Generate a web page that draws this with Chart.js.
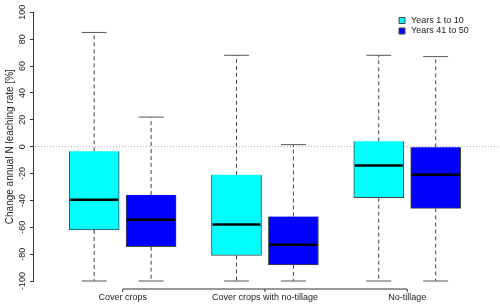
<!DOCTYPE html>
<html>
<head>
<meta charset="utf-8">
<style>
  body { margin: 0; background: #fff; }
  canvas { display: block; }
</style>
</head>
<body>
<canvas id="my-chart" width="500" height="308"></canvas>
<script src="https://cdn.jsdelivr.net/npm/chart.js"></script>
<script>
'use strict';

// ******** DATA **************
let categories = ['Cover crops', 'Cover crops with no-tillage', 'No-tillage'];
let seriesNames = ['Years 1 to 10', 'Years 41 to 50'];
let yTicks = [-100, -80, -60, -40, -20, 0, 20, 40, 60, 80, 100];

// box plot summaries, one value per category
let earlyMin = [-100, -100, -100];
let earlyQ1 = [-62, -81, -38];
let earlyMedian = [-39.5, -58, -14];
let earlyQ3 = [-3.5, -21, 4];
let earlyMax = [85, 68, 68];

let lateMin = [-100, -100, -100];
let lateQ1 = [-74.5, -88, -46];
let lateMedian = [-54.5, -73, -21];
let lateQ3 = [-36, -52, -0.5];
let lateMax = [22, 1.5, 67];

// ********* STYLE ****************
let fontFamily = '"Liberation Sans", Arial, Helvetica, sans-serif';
let textColor = '#222';
let axisColor = '#333';
let boxColors = ['#00ffff', '#0000ff'];

let allStats = [
  { min: earlyMin, q1: earlyQ1, median: earlyMedian, q3: earlyQ3, max: earlyMax },
  { min: lateMin, q1: lateQ1, median: lateMedian, q3: lateQ3, max: lateMax }
];

// second box of each pair sits a bit to the right of the first
function boxData(stats, shift) {
  return categories.map((c, i) => ({ x: i + 1 + shift, y: [stats.q1[i], stats.q3[i]] }));
}

// ********* EXTRA DRAWING (whiskers, medians, zero line, x bracket) *********
let boxPlotExtras = {
  id: 'boxPlotExtras',

  afterLayout(chart) {
    // put the legend in the top right corner of the plot
    let legend = chart.legend;
    legend.left = chart.chartArea.right - 104;
    legend.top = chart.chartArea.top + 2.2;
  },

  beforeDatasetsDraw(chart) {
    let ctx = chart.ctx;
    let yScale = chart.scales.y;
    let area = chart.chartArea;
    let y0 = yScale.getPixelForValue(0);
    ctx.save();
    ctx.strokeStyle = '#aaa';
    ctx.lineWidth = 1;
    ctx.setLineDash([1, 2]);
    ctx.beginPath();
    ctx.moveTo(area.left + 2, y0);
    ctx.lineTo(area.right, y0);
    ctx.stroke();
    ctx.restore();
  },

  afterDatasetsDraw(chart) {
    let ctx = chart.ctx;
    let yScale = chart.scales.y;
    ctx.save();
    chart.data.datasets.forEach((ds, d) => {
      let stats = allStats[d];
      chart.getDatasetMeta(d).data.forEach((bar, i) => {
        let x = bar.x;
        let half = bar.width / 2;
        let yMin = yScale.getPixelForValue(stats.min[i]);
        let yQ1 = yScale.getPixelForValue(stats.q1[i]);
        let yMed = yScale.getPixelForValue(stats.median[i]);
        let yQ3 = yScale.getPixelForValue(stats.q3[i]);
        let yMax = yScale.getPixelForValue(stats.max[i]);

        // dashed whiskers
        ctx.strokeStyle = '#444';
        ctx.lineWidth = 1;
        ctx.setLineDash([4, 3]);
        ctx.beginPath();
        ctx.moveTo(x, yQ3);
        ctx.lineTo(x, yMax);
        ctx.moveTo(x, yQ1);
        ctx.lineTo(x, yMin);
        ctx.stroke();

        // caps
        ctx.setLineDash([]);
        ctx.strokeStyle = '#555';
        ctx.beginPath();
        ctx.moveTo(x - half / 2, yMax);
        ctx.lineTo(x + half / 2, yMax);
        ctx.moveTo(x - half / 2, yMin);
        ctx.lineTo(x + half / 2, yMin);
        ctx.stroke();

        // median
        ctx.strokeStyle = '#000';
        ctx.lineWidth = 2.5;
        ctx.beginPath();
        ctx.moveTo(x - half + 1, yMed);
        ctx.lineTo(x + half - 1, yMed);
        ctx.stroke();
      });
    });
    ctx.restore();
  },

  afterDraw(chart) {
    // R style x axis: line from first to last tick, short ticks pointing down
    let ctx = chart.ctx;
    let xScale = chart.scales.x;
    let yLine = chart.chartArea.bottom + 8;
    let first = xScale.getPixelForValue(xScale.ticks[0].value);
    let last = xScale.getPixelForValue(xScale.ticks[xScale.ticks.length - 1].value);
    ctx.save();
    ctx.strokeStyle = axisColor;
    ctx.lineWidth = 1;
    ctx.beginPath();
    ctx.moveTo(first, yLine);
    ctx.lineTo(last, yLine);
    xScale.ticks.forEach((t) => {
      let px = xScale.getPixelForValue(t.value);
      ctx.moveTo(px, yLine);
      ctx.lineTo(px, yLine + 3);
    });
    ctx.stroke();
    ctx.restore();
  }
};

// ********* CHART *******************
let canvasElem = document.getElementById('my-chart');

let myChart = new Chart(canvasElem, {
  type: 'bar',
  data: {
    datasets: [
      {
        label: seriesNames[0],
        data: boxData(allStats[0], 0),
        backgroundColor: boxColors[0],
        borderColor: '#444',
        borderWidth: 1
      },
      {
        label: seriesNames[1],
        data: boxData(allStats[1], 0.4),
        backgroundColor: boxColors[1],
        borderColor: '#444',
        borderWidth: 1
      }
    ]
  },
  options: {
    responsive: false,
    animation: false,
    devicePixelRatio: 1,
    grouped: false,
    categoryPercentage: 1,
    barPercentage: 1,
    maxBarThickness: 50,
    layout: { padding: { top: 12.3, left: 0, right: 0, bottom: 0 } },
    scales: {
      x: {
        type: 'linear',
        min: 0.57,
        max: 3.852,
        offset: false,
        grid: { display: false, drawTicks: false },
        border: { display: false },
        ticks: {
          font: { family: fontFamily, size: 9 },
          color: textColor,
          padding: 11,
          maxRotation: 0,
          autoSkip: false,
          callback: (value, index) => categories[index]
        },
        afterBuildTicks: (axis) => {
          axis.ticks = categories.map((c, i) => ({ value: i + 1.2 }));
        },
        afterFit: (axis) => { axis.height = 27; }
      },
      y: {
        min: -100,
        max: 100,
        grid: { display: true, drawOnChartArea: false, drawTicks: true, tickLength: 3, color: axisColor },
        border: { display: true, color: axisColor, width: 1 },
        ticks: {
          font: { family: fontFamily, size: 9 },
          color: textColor,
          minRotation: 90,
          maxRotation: 90,
          crossAlign: 'center',
          padding: -2,
          autoSkip: false
        },
        afterBuildTicks: (axis) => {
          axis.ticks = yTicks.map((v) => ({ value: v }));
        },
        title: {
          display: true,
          text: 'Change annual N leaching rate [%]',
          font: { family: fontFamily, size: 10 },
          color: textColor,
          padding: { top: 4, bottom: 0 }
        },
        afterFit: (axis) => { axis.width = 33; }
      }
    },
    plugins: {
      tooltip: { enabled: false },
      legend: {
        position: 'chartArea',
        align: 'start',
        labels: {
          usePointStyle: true,
          pointStyle: 'rect',
          boxWidth: 9,
          boxHeight: 6,
          padding: 1.5,
          color: textColor,
          font: { family: fontFamily, size: 9 }
        }
      }
    }
  },
  plugins: [boxPlotExtras]
});
</script>
</body>
</html>
